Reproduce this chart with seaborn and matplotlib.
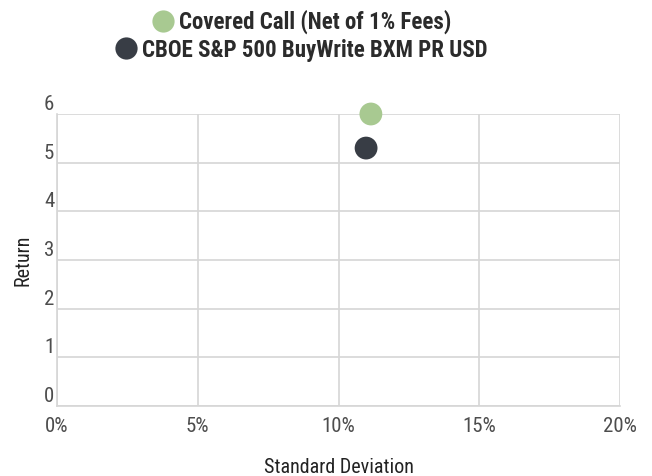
import numpy as np
import pandas as pd
import matplotlib
matplotlib.use("Agg")
import matplotlib.pyplot as plt
import seaborn as sns
from matplotlib.ticker import FuncFormatter
from matplotlib.lines import Line2D

# data
series = ["Covered Call (Net of 1% Fees)", "CBOE S&P 500 BuyWrite BXM PR USD"]
std_dev = [11.15, 10.98]
returns = [6.0, 5.3]
colors = ["#a8c991", "#383d45"]

x_ticks = [0, 5, 10, 15, 20]
y_ticks = [0, 1, 2, 3, 4, 5, 6]

sns.set_theme(style="white")
plt.rcParams["font.family"] = ["Roboto Condensed", "Roboto", "DejaVu Sans"]

df = pd.DataFrame({"series": series, "std": std_dev, "ret": returns})

fig = plt.figure(figsize=(6.52, 4.76), dpi=100)
ax = fig.add_axes([57 / 652, 1 - 406 / 476, 563 / 652, 292 / 476])

sns.scatterplot(data=df, x="std", y="ret", hue="series", palette=colors,
                s=270, linewidth=0, legend=False, ax=ax, zorder=3, clip_on=False)

grid_c = "#d6d6d6"
ax.set_xlim(0, 20)
ax.set_ylim(0, 6)
ax.set_xticks(x_ticks)
ax.set_yticks(y_ticks)
ax.xaxis.set_major_formatter(FuncFormatter(lambda v, p: f"{v:.0f}%"))
ax.grid(True, color=grid_c, linewidth=1.2)
ax.set_axisbelow(True)
for side in ["top", "right"]:
    ax.spines[side].set_visible(False)
for side in ["left", "bottom"]:
    ax.spines[side].set_color(grid_c)
    ax.spines[side].set_linewidth(1.2)

ax.tick_params(axis="x", length=0, pad=8, labelsize=15, labelcolor="#4d4d4d")
ax.tick_params(axis="y", length=9, width=1.2, color=grid_c, pad=-7,
               labelsize=15, labelcolor="#4d4d4d")
for lab in ax.get_yticklabels():
    lab.set_va("bottom")

ax.set_xlabel("Standard Deviation", fontsize=14.5, color="#222222", labelpad=16)
ax.set_ylabel("Return", fontsize=14.5, color="#222222", labelpad=8)

# legend rows are each centred on their own
for i, (name, c) in enumerate(zip(series, colors)):
    h = Line2D([], [], marker="o", linestyle="", markersize=16,
               markerfacecolor=c, markeredgewidth=0)
    fig.legend(handles=[h], labels=[name], loc="center",
               bbox_to_anchor=(300 / 652, 1 - (22 + 28 * i) / 476),
               frameon=False, handletextpad=0.1, handlelength=1.2,
               prop={"size": 16.5, "weight": "bold"}, labelcolor="#2b2b2b",
               borderpad=0)

fig.savefig("out.png", dpi=100)
